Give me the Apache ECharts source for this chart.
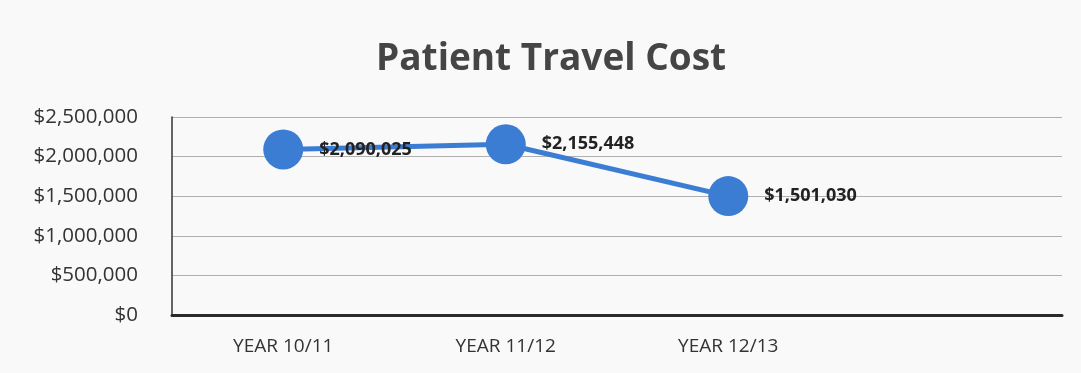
<!DOCTYPE html>
<html>
<head>
<meta charset="utf-8">
<script src="https://cdn.jsdelivr.net/npm/echarts@6/dist/echarts.min.js"></script>
<style>
html,body{margin:0;padding:0;background:#fff;}
#c{width:1081px;height:373px;}
</style>
</head>
<body>
<div id="c"></div>
<script>
const title = "Patient Travel Cost";
const categories = ["YEAR 10/11", "YEAR 11/12", "YEAR 12/13", ""];
const costs = [2090025, 2155448, 1501030, null];
const yMin = 0, yMax = 2500000, yStep = 500000;

function money(v){ return "$" + Math.round(v).toString().replace(/\B(?=(\d{3})+(?!\d))/g, ","); }

const chart = echarts.init(document.getElementById('c'));
chart.setOption({
  backgroundColor: '#f9f9fa',
  animation: false,
  title: {
    text: title, left: 371, top: 36,
    textStyle: {fontFamily: 'Open Sans', fontWeight: 'bold', fontSize: 37, color: '#454545'}
  },
  grid: {left: 172, right: 19, top: 117, bottom: 58},
  xAxis: {
    type: 'category', data: categories, boundaryGap: true,
    axisLine: {lineStyle: {color: '#2a2a2a', width: 3}},
    axisTick: {show: false},
    axisLabel: {fontFamily: 'Open Sans', fontSize: 19, color: '#333', margin: 22}
  },
  yAxis: {
    type: 'value', min: yMin, max: yMax, interval: yStep,
    axisLine: {show: true, lineStyle: {color: '#333', width: 1.5}},
    axisTick: {show: false},
    splitLine: {lineStyle: {color: '#b0b0b0', width: 1}},
    axisLabel: {fontFamily: 'Open Sans', fontSize: 20.5, color: '#333', margin: 34, formatter: money}
  },
  series: [{
    type: 'line', data: costs,
    symbol: 'circle', symbolSize: 40,
    lineStyle: {color: '#3b7dd3', width: 5},
    itemStyle: {color: '#3b7dd3'},
    label: {show: true, position: 'right', distance: 16, formatter: p => money(p.value),
      fontFamily: 'Open Sans', fontWeight: 'bold', fontSize: 18, color: '#222'}
  }]
});
</script>
</body>
</html>
